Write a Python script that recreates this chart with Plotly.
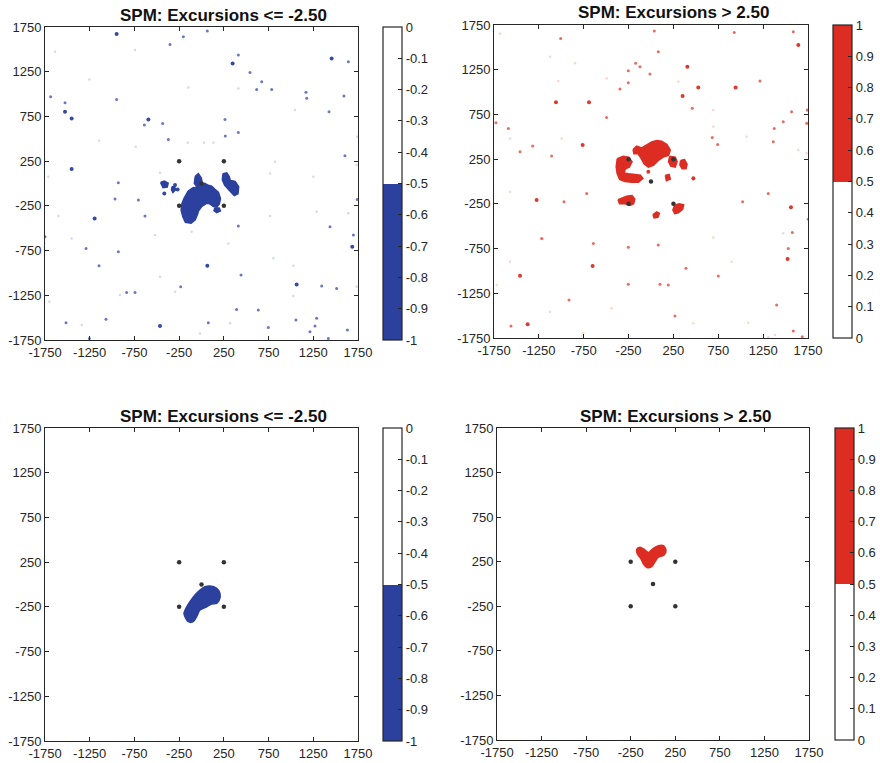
import plotly.graph_objects as go

W, H = 880, 763

# ---------------- data ----------------
AXIS_TICKS = [-1750, -1250, -750, -250, 250, 750, 1250, 1750]
AXIS_TICK_TEXT = ["-1750", "-1250", "-750", "-250", "250", "750", "1250", "1750"]
NEG_CB_TICKS = [0, -0.1, -0.2, -0.3, -0.4, -0.5, -0.6, -0.7, -0.8, -0.9, -1]
NEG_CB_TEXT = ["0", "-0.1", "-0.2", "-0.3", "-0.4", "-0.5", "-0.6", "-0.7", "-0.8", "-0.9", "-1"]
POS_CB_TICKS = [0, 0.1, 0.2, 0.3, 0.4, 0.5, 0.6, 0.7, 0.8, 0.9, 1]
POS_CB_TEXT = ["0", "0.1", "0.2", "0.3", "0.4", "0.5", "0.6", "0.7", "0.8", "0.9", "1"]

TITLE_NEG = "SPM: Excursions <= -2.50"
TITLE_POS = "SPM: Excursions > 2.50"

ELECTRODE_X = [-250, 250, 0, -250, 250]
ELECTRODE_Y = [250, 250, 0, -250, -250]

# top-left: negative excursion clusters (polygons)
NEG_TOP_BLOBS = [
    [(-10, 5), (40, 0), (76, -20), (114, -30), (151, -65), (190, -100), (212, -167), (200, -228),
     (170, -265), (132, -258), (95, -228), (58, -190), (30, -140), (0, -110)],
    [(-150, -85), (-91, -45), (-35, -55), (10, -80), (40, -150), (10, -210), (-30, -245), (-40, -334),
     (-70, -405), (-117, -445), (-180, -435), (-208, -375), (-228, -298), (-218, -224), (-195, -165), (-170, -125)],
    [(-120, -70), (-40, -30), (40, -20), (130, -60), (185, -150), (150, -230), (60, -220), (0, -260),
     (-50, -330), (-140, -320), (-190, -220)],
    [(-70, 80), (-35, 110), (-2, 60), (8, 5), (-45, -40), (-80, 0)],
    [(240, 110), (283, 118), (310, 78), (322, 35), (376, 24), (416, -36), (408, -114), (367, -134),
     (328, -95), (290, -58), (260, -20), (233, 40)],
    [(-458, 12), (-416, 28), (-373, 3), (-383, -40), (-430, -48)],
    [(148, -273), (198, -273), (212, -305), (170, -325), (140, -305)],
    [(-330, -35), (-300, -35), (-290, -70), (-320, -100), (-335, -70)],
]
NEG_TOP_BIG_X = [-949, 348, -1526, -1452, -594, -1452, -1195, 65, 1064, -464, 1686, 1455, -296, -267, -416]
NEG_TOP_BIG_Y = [1671, 1343, 802, 728, 717, 161, -390, -919, -1128, -1594, -707, 1399, -18, -66, -111]
NEG_TOP_SMALL_X = [-203, 65, -352, 412, 1642, 542, 673, -1687, -949, 617, 785, 1168, 1176, 1593, -1526,
                   -639, -434, 263, 266, 412, -371, 1426, 1604, -930, -967, -706, -632, 412, -1291, -930,
                   -1146, 442, 1344, 1511, -837, -744, -1068, -233, 393, 635, 747, 1056, 1269, 1698, 1742,
                   1437, 1418, -1750, 1631, -1515, 76, 1213, -1254, 1288]
NEG_TOP_SMALL_Y = [1641, 1704, 1555, 1436, 1362, 1242, 1138, 970, 940, 1052, 1052, 1019, 952, 978, 903,
                   653, 672, 717, 530, 571, 493, 802, 310, 9, -174, -185, -364, -476, -726, -763,
                   -919, -1024, -1147, -1173, -1218, -1218, -1519, -1154, -1408, -1415, -1609, -1527, -1594, -576, -178,
                   -483, -1732, -595, -1639, -1557, -1557, -1657, -1732, -1508]
NEG_TOP_FAINT_X = [-1638, -744, -1254, -147, 412, 1045, 1742, -1146, -736, -155, 28, 132, 822, -1713, -464,
                   766, 1250, 1735, 1642, 1288, 766, -520, -1601, -1452, -110, 300, 803, 1027, -464, 1735,
                   -911, -296, 1027, -1701, -1340, -17, 319]
NEG_TOP_FAINT_Y = [1473, 1492, 1164, 1074, 1063, 821, 523, 478, 411, 456, 456, 456, 243, 76, 120,
                   113, 76, 206, -334, -316, -364, -577, -364, -614, -539, -670, -837, -919, -1042, -1154,
                   -1247, -1210, -1259, -1322, -1583, -1676, -1564]

# top-right: positive excursion clusters (polygons)
POS_TOP_BLOBS = [
    [(-200, 356), (-160, 395), (-104, 376), (-49, 413), (7, 443), (63, 458), (119, 450), (178, 412),
     (215, 352), (196, 292), (137, 273), (81, 235), (26, 180), (-30, 160), (-78, 198), (-108, 255),
     (-145, 310), (-190, 310)],
    [(-376, 256), (-309, 283), (-250, 272), (-211, 222), (-242, 160), (-285, 142), (-300, 96), (-253, 86),
     (-179, 79), (-118, 70), (-90, 35), (-140, -8), (-216, -8), (-290, 0), (-350, 24), (-378, 91), (-388, 166)],
    [(208, 282), (270, 271), (291, 222), (270, 160), (220, 172), (196, 222)],
    [(330, 234), (374, 245), (402, 192), (390, 142), (346, 142), (322, 185)],
    [(160, 70), (203, 78), (215, 28), (172, 8)],
    [(-368, -203), (-309, -183), (-272, -165), (-212, -157), (-181, -196), (-193, -248), (-234, -268),
     (-290, -249), (-350, -249)],
    [(264, -265), (314, -250), (364, -260), (353, -310), (304, -350), (264, -360), (244, -319)],
    [(22, -370), (63, -340), (93, -357), (77, -400), (34, -408)],
]
POS_TOP_BIG_X = [-1059, -691, -1460, -1375, -651, 943, 1642, 1523, 405, 527, 352, -1275, -762, 1560, 472, -30]
POS_TOP_BIG_Y = [885, 885, -1053, -1597, -945, 1052, 1526, -867, 1284, 1052, 956, -207, 408, -289, 35, 110]
POS_TOP_SMALL_X = [-1007, -171, -123, -253, -12, 81, 1214, 1586, 928, 37, 460, -1590, -1728, -1460, -1319,
                   -1108, -495, -253, -346, 683, 743, 1474, 1374, 1363, 1567, 1742, 1735, 471, 1307, 1021,
                   -970, -717, 1575, 1753, -253, -1561, -914, -253, 100, 193, 267, 1400, 1530, 750, 1586,
                   1686, 390, -643, 81, -1219]
POS_TOP_SMALL_Y = [1600, 1321, 1284, 1239, 1202, 1451, 1123, 1675, 1667, 1682, 818, 594, 657, 333, 397,
                   285, 717, 1105, 1034, 493, 415, 669, 594, 445, 780, 799, 650, 28, -133, -226,
                   -226, -133, -569, -423, -736, -1616, -1325, -1150, -1150, -1158, -1504, -1381, -748, -1057, -1672,
                   -1735, -971, -692, -710, -636]
POS_TOP_FAINT_X = [-1683, -1126, -847, -1033, -495, 304, 694, -1572, -996, 694, 1066, 1642, -1572, -1208, 694,
                   899, 1474, -1572, -1720, -1126, -755, -439, 471, 1084, 1381, 1735, 1307]
POS_TOP_FAINT_Y = [1656, 1395, 1321, 1123, 1153, 1116, 799, 482, 482, 613, 501, 352, -114, -643, -625,
                   -897, -580, -897, -1158, -1456, -1698, -1418, -1586, -1579, -1717, 315, -1743]

# bottom panels: smoothed clusters
NEG_BOTTOM_BLOB = [(-185, -360), (-148, -416), (-92, -416), (-54, -360), (-17, -285), (58, -249), (114, -218),
                   (170, -211), (199, -174), (207, -99), (170, -43), (95, -17), (39, -25), (-17, -62),
                   (-73, -118), (-129, -193), (-174, -266), (-196, -322)]
POS_BOTTOM_BLOB = [(-183, 390), (-146, 412), (-101, 390), (-52, 352), (4, 401), (60, 430), (116, 430),
                   (146, 382), (124, 326), (60, 300), (23, 251), (-14, 195), (-63, 183), (-108, 225),
                   (-138, 289), (-176, 337)]

# ---------------- styling ----------------
BLUE = "rgb(44,64,158)"
RED = "rgb(221,45,35)"
INK = "#262626"
FONT = "Liberation Sans, Arial, sans-serif"

panels = [
    dict(ax="", xpx=(45, 358), ypx=(27, 340), cbx=383, cby=(27, 340), neg=True, title=TITLE_NEG),
    dict(ax="2", xpx=(494, 808), ypx=(25, 338), cbx=833, cby=(25, 338), neg=False, title=TITLE_POS),
    dict(ax="3", xpx=(45, 358), ypx=(428, 741), cbx=383, cby=(428, 741), neg=True, title=TITLE_NEG),
    dict(ax="4", xpx=(497, 809), ypx=(428, 740), cbx=835, cby=(428, 740), neg=False, title=TITLE_POS),
]

fig = go.Figure()


def add_polys(polys, color, xa, ya, smooth):
    for poly in polys:
        xs = [p[0] for p in poly] + [poly[0][0]]
        ys = [p[1] for p in poly] + [poly[0][1]]
        line = dict(color=color, width=1.5)
        if smooth:
            line.update(shape="spline", smoothing=0.8)
        fig.add_trace(go.Scatter(x=xs, y=ys, mode="lines", fill="toself", fillcolor=color, line=line,
                                 xaxis=xa, yaxis=ya, hoverinfo="skip", showlegend=False))


def add_dots(xs, ys, color, size, opacity, xa, ya):
    fig.add_trace(go.Scatter(x=xs, y=ys, mode="markers",
                             marker=dict(color=color, size=size, opacity=opacity, line=dict(width=0)),
                             xaxis=xa, yaxis=ya, hoverinfo="skip", showlegend=False))


for i, p in enumerate(panels):
    xa = "x" + p["ax"]
    ya = "y" + p["ax"]
    color = BLUE if p["neg"] else RED
    if i == 0:
        add_dots(NEG_TOP_FAINT_X, NEG_TOP_FAINT_Y, color, 2.5, 0.2, xa, ya)
        add_dots(NEG_TOP_SMALL_X, NEG_TOP_SMALL_Y, color, 3, 0.7, xa, ya)
        add_dots(NEG_TOP_BIG_X, NEG_TOP_BIG_Y, color, 4, 0.95, xa, ya)
        add_polys(NEG_TOP_BLOBS, color, xa, ya, False)
    elif i == 1:
        add_dots(POS_TOP_FAINT_X, POS_TOP_FAINT_Y, color, 2.5, 0.2, xa, ya)
        add_dots(POS_TOP_SMALL_X, POS_TOP_SMALL_Y, color, 3, 0.7, xa, ya)
        add_dots(POS_TOP_BIG_X, POS_TOP_BIG_Y, color, 4, 0.95, xa, ya)
        add_polys(POS_TOP_BLOBS, color, xa, ya, False)
    elif i == 2:
        add_polys([NEG_BOTTOM_BLOB], color, xa, ya, True)
    else:
        add_polys([POS_BOTTOM_BLOB], color, xa, ya, True)

    add_dots(ELECTRODE_X, ELECTRODE_Y, "#333333", 4.5, 1, xa, ya)

    if p["neg"]:
        cs = [[0, BLUE], [0.5, BLUE], [0.5, "white"], [1, "white"]]
        cmin, cmax, tv, tt = -1, 0, NEG_CB_TICKS, NEG_CB_TEXT
    else:
        cs = [[0, "white"], [0.5, "white"], [0.5, RED], [1, RED]]
        cmin, cmax, tv, tt = 0, 1, POS_CB_TICKS, POS_CB_TEXT
    top, bot = p["cby"]
    fig.add_trace(go.Scatter(
        x=[None], y=[None], mode="markers", xaxis=xa, yaxis=ya, hoverinfo="skip", showlegend=False,
        marker=dict(color=[cmin], cmin=cmin, cmax=cmax, colorscale=cs, size=0, showscale=True,
                    colorbar=dict(x=p["cbx"] / W, xanchor="left", xpad=0, ypad=0,
                                  y=1 - top / H, yanchor="top", len=(bot - top) / H, lenmode="fraction",
                                  thickness=19, thicknessmode="pixels",
                                  outlinecolor=INK, outlinewidth=1.2,
                                  tickvals=tv, ticktext=tt, ticks="inside", ticklen=4,
                                  tickcolor=INK, tickfont=dict(size=13, color=INK, family=FONT)))))

    axis_common = dict(range=[-1750, 1750], tickvals=AXIS_TICKS, ticktext=AXIS_TICK_TEXT,
                       ticks="inside", ticklen=4, tickcolor=INK, showline=True, linecolor=INK,
                       linewidth=1, mirror="ticks", showgrid=False, zeroline=False, automargin=False,
                       tickfont=dict(size=13, color=INK, family=FONT), fixedrange=True)
    fig.update_layout(**{
        "xaxis" + p["ax"]: dict(domain=[p["xpx"][0] / W, p["xpx"][1] / W], anchor=ya, **axis_common),
        "yaxis" + p["ax"]: dict(domain=[1 - p["ypx"][1] / H, 1 - p["ypx"][0] / H], anchor=xa, **axis_common),
    })

    fig.add_annotation(text="<b>" + p["title"].replace("<", "&lt;").replace(">", "&gt;") + "</b>",
                       xref="paper", yref="paper",
                       x=((p["xpx"][0] + p["cbx"] + 19) / 2) / W, y=1 - (p["ypx"][0] - 12) / H,
                       xanchor="center", yanchor="middle", showarrow=False,
                       font=dict(size=17, color="#111111", family=FONT))

fig.update_layout(width=W, height=H, margin=dict(l=0, r=0, t=0, b=0, autoexpand=False),
                  template="none",
                  paper_bgcolor="white", plot_bgcolor="white", showlegend=False)

fig.write_html("out.html")
